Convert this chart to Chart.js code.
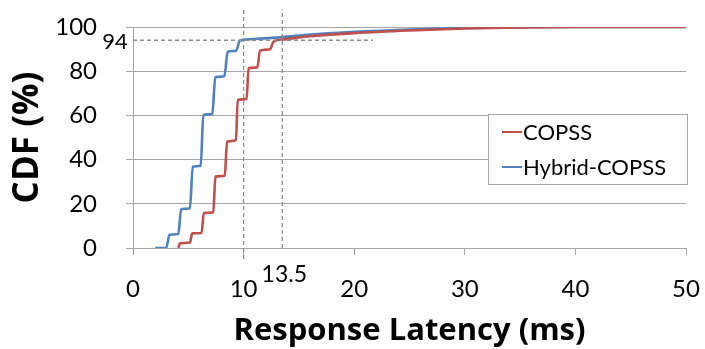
<!DOCTYPE html>
<html><head><meta charset="utf-8">
<script src="https://cdn.jsdelivr.net/npm/chart.js@4/dist/chart.umd.min.js"></script>
<style>html,body{margin:0;padding:0;background:#fff}#w{width:705px;height:349px}</style>
</head><body><div id="w"><canvas id="c" width="705" height="349"></canvas></div>
<script>
const xTicks = [0, 10, 20, 30, 40, 50];
const yTicks = [0, 20, 40, 60, 80, 100];
const copssX = [4.1,4.25,5.15,5.35,6.2,6.4,7.26,7.45,8.3,8.5,9.31,9.47,10.27,10.45,11.24,11.48,12.4,12.7,13.5,16,20,25,30,35,40,50];
const copssY = [0,2.1,2.5,6.6,6.8,15.8,16.2,32.3,32.7,48.1,48.8,67,67.4,81.3,81.7,89.3,89.9,93.4,94.3,95.8,97.2,98.4,99.3,99.8,100,100];
const hybridX = [2.0,3.0,3.3,4.1,4.35,5.15,5.4,6.12,6.36,7.17,7.44,8.26,8.56,9.31,9.67,11,13.5,16,20,25,30,35,40,50];
const hybridY = [0,0,6,6.3,17.6,18,36.8,37.2,60.2,60.6,77.3,77.7,88.8,89.2,93.8,94.6,95.4,96.6,97.8,98.9,99.6,99.9,100,100];
const markY = 94;      // horizontal guide
const markX1 = 10;     // vertical guide
const markX2 = 13.5;   // vertical guide
const seriesNames = ['COPSS', 'Hybrid-COPSS'];
const FONT = 'Lato, Carlito, "Open Sans", sans-serif';
const TFONT = '"Open Sans", Lato, sans-serif';

const pts = (xs, ys) => xs.map((x, i) => ({x, y: ys[i]}));
const guide = (data) => ({data, borderColor:'#8c8c8c', borderWidth:1.3, borderDash:[4,3], pointRadius:0, showLine:true, clip:false, isGuide:true, tension:0});

const overlay = {
  id:'overlay',
  afterDraw(chart){
    const {ctx, scales:{x, y}} = chart;
    ctx.save();
    ctx.fillStyle = '#000';
    ctx.font = '22px ' + FONT;
    ctx.textAlign = 'center'; ctx.textBaseline = 'middle';
    ctx.fillText(String(markY), 115, y.getPixelForValue(markY) + 2);
    ctx.font = '23px ' + FONT;
    ctx.fillText(String(markX2), x.getPixelForValue(markX2) + 2, y.bottom + 27);
    // legend
    const L = 488, T = 114, W = 199, H = 70;
    ctx.fillStyle = '#fff'; ctx.fillRect(L, T, W, H);
    ctx.strokeStyle = '#a6a6a6'; ctx.lineWidth = 1; ctx.strokeRect(L + 0.5, T + 0.5, W, H);
    const ds = chart.data.datasets.filter(d => !d.isGuide);
    ds.forEach((d, i) => {
      const cy = T + 18 + i * 35;
      ctx.strokeStyle = d.borderColor; ctx.lineWidth = 2;
      ctx.beginPath(); ctx.moveTo(L + 14, cy); ctx.lineTo(L + 34, cy); ctx.stroke();
      ctx.fillStyle = '#000'; ctx.font = '22px ' + FONT; ctx.textAlign = 'left';
      ctx.fillText(d.label, L + 35, cy + 1);
    });
    ctx.restore();
  }
};

new Chart(document.getElementById('c'), {
  type:'scatter',
  data:{datasets:[
    guide([{x:0,y:markY},{x:21.7,y:markY}]),
    guide([{x:markX1,y:-5},{x:markX1,y:108}]),
    guide([{x:markX2,y:0},{x:markX2,y:108}]),
    {label:seriesNames[0], data:pts(copssX, copssY), borderColor:'#c0504d', borderWidth:2.6, showLine:true, pointRadius:0, cubicInterpolationMode:'monotone'},
    {label:seriesNames[1], data:pts(hybridX, hybridY), borderColor:'#4f81bd', borderWidth:2.6, showLine:true, pointRadius:0, cubicInterpolationMode:'monotone'}
  ]},
  options:{
    responsive:false, animation:false,
    layout:{padding:{left:0, right:19, top:27, bottom:0}},
    plugins:{legend:{display:false}, tooltip:{enabled:false}},
    scales:{
      x:{type:'linear', min:0, max:50,
        afterBuildTicks(s){ s.ticks = xTicks.map(v => ({value:v})); },
        afterFit(s){ s.height = 349 - 248; s.paddingLeft = 0; s.paddingRight = 0; },
        grid:{drawOnChartArea:false, color:'#a6a6a6', tickLength:7, tickColor:'#a6a6a6'},
        border:{color:'#a6a6a6', width:1},
        ticks:{color:'#000', font:{family:FONT, size:24}, padding:20, maxRotation:0},
        title:{display:true, text:'Response Latency (ms)', color:'#000', font:{family:TFONT, size:31, weight:'bold'}, padding:{top:0, bottom:-1}}
      },
      y:{type:'linear', min:0, max:100,
        afterBuildTicks(s){ s.ticks = yTicks.map(v => ({value:v})); },
        afterFit(s){ s.width = 133; s.paddingTop = 0; s.paddingBottom = 0; },
        grid:{color:'#a6a6a6', tickLength:7, tickColor:'#a6a6a6'},
        border:{color:'#a6a6a6', width:1},
        ticks:{color:'#000', font:{family:FONT, size:24}, padding:29},
        title:{display:true, text:'CDF (%)', color:'#000', font:{family:TFONT, size:35, weight:'bold'}, padding:{top:7, bottom:0}}
      }
    }
  },
  plugins:[overlay]
});
</script></body></html>
